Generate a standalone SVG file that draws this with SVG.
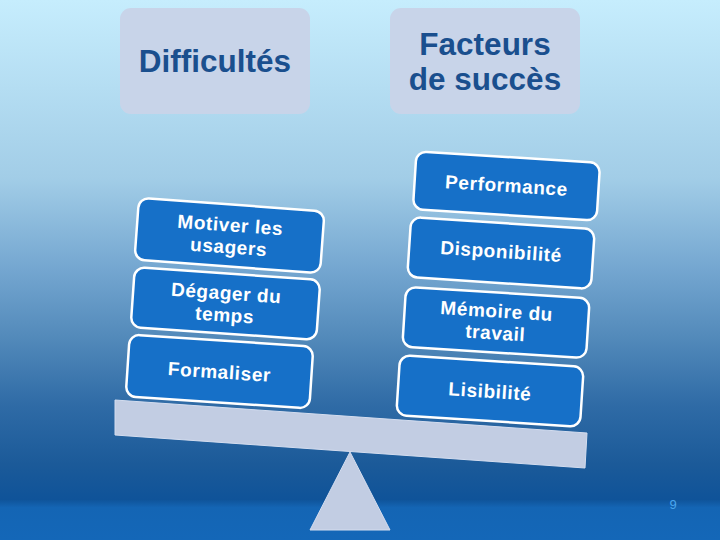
<svg xmlns="http://www.w3.org/2000/svg" width="720" height="540" viewBox="0 0 720 540">
  <defs>
    <linearGradient id="bg" x1="0" y1="0" x2="0" y2="1">
      <stop offset="0" stop-color="#c6edfd"/>
      <stop offset="0.33" stop-color="#a2cde7"/>
      <stop offset="0.5" stop-color="#74a6d0"/>
      <stop offset="0.62" stop-color="#548bbb"/>
      <stop offset="0.75" stop-color="#2f6ba6"/>
      <stop offset="0.86" stop-color="#1b5a99"/>
      <stop offset="0.925" stop-color="#0f5399"/>
      <stop offset="0.94" stop-color="#1465b4"/>
      <stop offset="1" stop-color="#1467b8"/>
    </linearGradient>
    <style>
      .head { fill: #c8d4e9; }
      .headtxt { font-family: "Liberation Sans", Arial, sans-serif; font-weight: bold; font-size: 31.5px; fill: #1a4f8e; text-anchor: middle; }
      .box { fill: #1670c8; stroke: #ffffff; stroke-width: 2.5; }
      .boxtxt { font-family: "Liberation Sans", Arial, sans-serif; font-weight: bold; font-size: 19px; fill: #ffffff; text-anchor: middle; letter-spacing: 0.6px; }
      .scale { fill: #c2cde3; stroke: #d4ddef; stroke-width: 1; }
    </style>
  </defs>
  <rect width="720" height="540" fill="url(#bg)"/>

  <g id="head-difficultes">
    <rect class="head" x="120" y="8" width="190" height="106" rx="11"/>
    <text class="headtxt" x="215" y="72">Difficultés</text>
  </g>
  <g id="head-facteurs">
    <rect class="head" x="390" y="8" width="190" height="106" rx="11"/>
    <text class="headtxt" x="485" y="55">Facteurs</text>
    <text class="headtxt" x="485" y="90">de succès</text>
  </g>

  <g id="balance">
    <polygon class="scale" points="115,400 587,433 585,468 115,435"/>
    <polygon class="scale" points="350,452 310,530 390,530"/>
  </g>

  <g id="motiver" transform="translate(229.5,235.5) rotate(4.2)">
    <rect class="box" x="-93" y="-31" width="186" height="62" rx="10"/>
    <text class="boxtxt" x="0" y="-4">Motiver les</text>
    <text class="boxtxt" x="0" y="18">usagers</text>
  </g>
  <g id="degager" transform="translate(225.5,303.5) rotate(4)">
    <rect class="box" x="-93" y="-30" width="186" height="60" rx="10"/>
    <text class="boxtxt" x="0" y="-4">Dégager du</text>
    <text class="boxtxt" x="0" y="18">temps</text>
  </g>
  <g id="formaliser" transform="translate(219.5,371.5) rotate(3.8)">
    <rect class="box" x="-92" y="-31" width="184" height="62" rx="10"/>
    <text class="boxtxt" x="0" y="7">Formaliser</text>
  </g>

  <g id="performance" transform="translate(506.5,186) rotate(3.6)">
    <rect class="box" x="-92" y="-29" width="184" height="58" rx="10"/>
    <text class="boxtxt" x="0" y="6">Performance</text>
  </g>
  <g id="disponibilite" transform="translate(501,253) rotate(3.8)">
    <rect class="box" x="-92" y="-30" width="184" height="60" rx="10"/>
    <text class="boxtxt" x="0" y="5">Disponibilité</text>
  </g>
  <g id="memoire" transform="translate(496,322.5) rotate(3.6)">
    <rect class="box" x="-92" y="-30" width="184" height="60" rx="10"/>
    <text class="boxtxt" x="0" y="-5">Mémoire du</text>
    <text class="boxtxt" x="0" y="17">travail</text>
  </g>
  <g id="lisibilite" transform="translate(490,391) rotate(3.7)">
    <rect class="box" x="-92" y="-30" width="184" height="60" rx="10"/>
    <text class="boxtxt" x="0" y="7">Lisibilité</text>
  </g>

  <text x="673" y="509" font-family="Liberation Sans, Arial, sans-serif" font-size="13" fill="#4aa6ee" text-anchor="middle">9</text>
</svg>
